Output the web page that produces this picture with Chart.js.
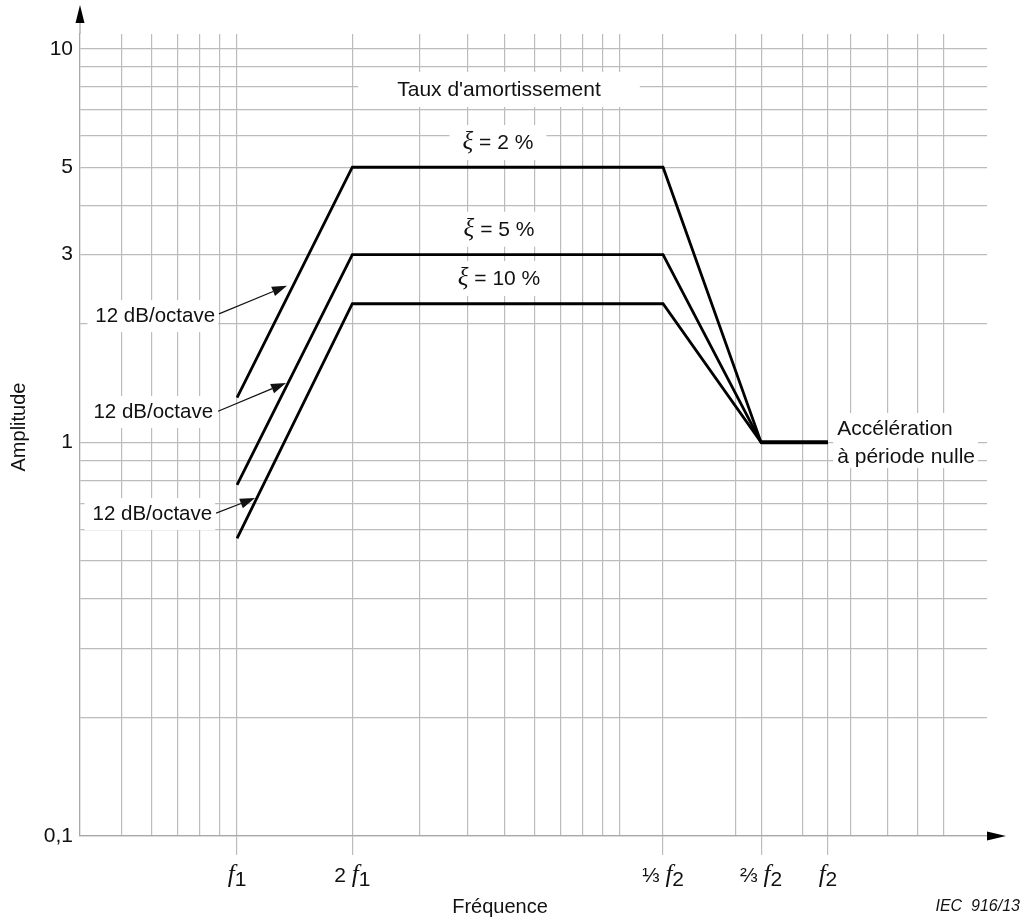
<!DOCTYPE html>
<html>
<head>
<meta charset="utf-8">
<title>Amplitude / Fréquence</title>
<script src="https://cdn.jsdelivr.net/npm/chart.js@4.4.1/dist/chart.umd.min.js"></script>
<style>
  html, body { margin: 0; padding: 0; background: #fff; }
  canvas { display: block; }
</style>
</head>
<body>
<canvas id="spectreChart" width="1027" height="921"></canvas>
<script>
// points de rupture en fréquence (multiples de f1)
const frequences = [1, 2, 12.95, 23.35, 34.9];
// amplitude pour chaque taux d'amortissement
const amplitude2 = [1.3, 5, 5, 1, 1];
const amplitude5 = [0.78, 3, 3, 1, 1];
const amplitude10 = [0.57, 2.25, 2.25, 1, 1];
// palier d'accélération à période nulle
const accelFreq = [23.35, 34.9];
const accelAmp = [1, 1];

// lignes de grille (papier log-log)
const xGrille = [0.5, 0.6, 0.7, 0.8, 0.9, 1, 2, 3, 4, 5, 6, 7, 8, 9, 10,
                 12.95, 20, 23.35, 30, 34.9, 40, 50, 60, 70];
const yGrille = [0.1, 0.2, 0.3, 0.4, 0.5, 0.6, 0.7, 0.8, 0.9,
                 1, 2, 3, 4, 5, 6, 7, 8, 9, 10];
const yEtiquettes = { 10: '10', 5: '5', 3: '3', 1: '1', 0.1: '0,1' };
const xEtiquettes = [
    { value: 1, pre: '', sub: '1' },
    { value: 2, pre: '2 ', sub: '1' },
    { value: 12.95, pre: '⅓ ', sub: '2' },
    { value: 23.35, pre: '⅔ ', sub: '2' },
    { value: 34.9, pre: '', sub: '2' }
];

const SANS = '"Liberation Sans", Arial, sans-serif';
const SERIF = '"Liberation Serif", "Times New Roman", serif';
const GRIS = '#bcbcbc';
const NOIR = '#111';
const XI = 'italic 25px ' + SERIF;

// textes avec fond blanc (positions en coordonnées des données)
const annotations = [
    { lignes: [[["Taux d'amortissement", '21px ' + SANS]]], x: 4.83, y: [7.59], align: 'center', pad: [39, 39, 24, 11] },
    { lignes: [[['ξ', XI], [' = 2 %', '21px ' + SANS]]], x: 4.80, y: [5.56], align: 'center', pad: [13, 13, 24, 11] },
    { lignes: [[['ξ', XI], [' = 5 %', '21px ' + SANS]]], x: 4.83, y: [3.35], align: 'center', pad: [13, 13, 24, 11] },
    { lignes: [[['ξ', XI], [' = 10 %', '21px ' + SANS]]], x: 4.83, y: [2.51], align: 'center', pad: [13, 13, 24, 11] },
    { lignes: [[['12 dB/octave', '20.5px ' + SANS]]], x: 0.876, y: [2.02], align: 'right', pad: [8, 3, 22, 10] },
    { lignes: [[['12 dB/octave', '20.5px ' + SANS]]], x: 0.866, y: [1.153], align: 'right', pad: [8, 3, 22, 10] },
    { lignes: [[['12 dB/octave', '20.5px ' + SANS]]], x: 0.861, y: [0.635], align: 'right', pad: [8, 3, 22, 10] },
    { lignes: [[['Accélération', '21px ' + SANS]], [['à période nulle', '21px ' + SANS]]],
      x: 36.9, y: [1.044, 0.887], align: 'left', pad: [4, 3, 22, 5] }
];

// flèches "12 dB/octave"
const fleches = [
    { de: [0.897, 2.12], vers: [1.35, 2.50] },
    { de: [0.892, 1.20], vers: [1.342, 1.416] },
    { de: [0.882, 0.661], vers: [1.114, 0.722] }
];

function serie(xs, ys) {
    return xs.map((x, i) => ({ x: x, y: ys[i] }));
}

function largeur(ctx, runs) {
    let w = 0;
    runs.forEach(r => { ctx.font = r[1]; w += ctx.measureText(r[0]).width; });
    return w;
}

function dessinerRuns(ctx, runs, x, y, align) {
    const w = largeur(ctx, runs);
    let cx = align === 'center' ? x - w / 2 : (align === 'right' ? x - w : x);
    ctx.textAlign = 'left';
    ctx.textBaseline = 'alphabetic';
    runs.forEach(r => {
        ctx.font = r[1];
        ctx.fillText(r[0], cx, y + (r[2] || 0));
        cx += ctx.measureText(r[0]).width;
    });
}

function fleche(ctx, x1, y1, x2, y2, long, demi) {
    const a = Math.atan2(y2 - y1, x2 - x1);
    const bx = x2 - long * Math.cos(a), by = y2 - long * Math.sin(a);
    ctx.beginPath();
    ctx.moveTo(x1, y1);
    ctx.lineTo(bx, by);
    ctx.stroke();
    ctx.beginPath();
    ctx.moveTo(x2, y2);
    ctx.lineTo(bx + demi * Math.sin(a), by - demi * Math.cos(a));
    ctx.lineTo(bx - demi * Math.sin(a), by + demi * Math.cos(a));
    ctx.closePath();
    ctx.fill();
}

const decorPlugin = {
    id: 'decor',
    beforeDatasetsDraw(chart) {
        const ctx = chart.ctx, xs = chart.scales.x, ys = chart.scales.y;
        ctx.save();
        // fonds blancs et textes
        annotations.forEach(a => {
            const px = xs.getPixelForValue(a.x);
            const py = a.y.map(v => ys.getPixelForValue(v));
            let wmax = 0;
            a.lignes.forEach(l => { wmax = Math.max(wmax, largeur(ctx, l)); });
            const left = a.align === 'center' ? px - wmax / 2 : (a.align === 'right' ? px - wmax : px);
            ctx.fillStyle = '#fff';
            ctx.fillRect(left - a.pad[0], py[0] - a.pad[2],
                wmax + a.pad[0] + a.pad[1], py[py.length - 1] - py[0] + a.pad[2] + a.pad[3]);
            ctx.fillStyle = NOIR;
            a.lignes.forEach((l, i) => dessinerRuns(ctx, l, px, py[i], a.align));
        });
        ctx.restore();
    },
    afterDatasetsDraw(chart) {
        const ctx = chart.ctx, xs = chart.scales.x, ys = chart.scales.y;
        const area = chart.chartArea;
        ctx.save();
        ctx.strokeStyle = NOIR;
        ctx.fillStyle = NOIR;
        ctx.lineWidth = 1.2;
        fleches.forEach(f => {
            fleche(ctx, xs.getPixelForValue(f.de[0]), ys.getPixelForValue(f.de[1]),
                xs.getPixelForValue(f.vers[0]), ys.getPixelForValue(f.vers[1]), 15, 5);
        });

        // prolongement des axes et flèches
        ctx.strokeStyle = '#a8a8a8';
        ctx.lineWidth = 1.3;
        ctx.beginPath();
        ctx.moveTo(area.left, area.top);
        ctx.lineTo(area.left, area.top - 12);
        ctx.moveTo(area.right, area.bottom);
        ctx.lineTo(area.right + 2, area.bottom);
        ctx.stroke();
        ctx.fillStyle = '#000';
        ctx.beginPath();
        ctx.moveTo(area.left, area.top - 29);
        ctx.lineTo(area.left - 4.5, area.top - 11);
        ctx.lineTo(area.left + 4.5, area.top - 11);
        ctx.closePath();
        ctx.fill();
        ctx.beginPath();
        ctx.moveTo(area.right + 19, area.bottom);
        ctx.lineTo(area.right, area.bottom - 4.5);
        ctx.lineTo(area.right, area.bottom + 4.5);
        ctx.closePath();
        ctx.fill();

        // étiquettes de l'axe des fréquences
        ctx.fillStyle = NOIR;
        xEtiquettes.forEach(e => {
            const runs = [];
            if (e.pre) runs.push([e.pre, '21px ' + SANS]);
            runs.push(['f', 'italic 25px ' + SERIF]);
            runs.push([e.sub, '21px ' + SANS, 4]);
            dessinerRuns(ctx, runs, xs.getPixelForValue(e.value), 882, 'center');
        });

        // titres des axes
        ctx.font = '20px ' + SANS;
        ctx.textAlign = 'center';
        ctx.textBaseline = 'alphabetic';
        ctx.fillText('Fréquence', 500, 913);
        ctx.save();
        ctx.translate(25, 427);
        ctx.rotate(-Math.PI / 2);
        ctx.fillText('Amplitude', 0, 0);
        ctx.restore();

        ctx.font = 'italic 16px ' + SANS;
        ctx.textAlign = 'right';
        ctx.fillText('IEC  916/13', 1020, 911);
        ctx.restore();
    }
};

const estEtiquetteX = v => xEtiquettes.some(e => e.value === v);

const ligne = {
    borderColor: '#000',
    borderWidth: 2.8,
    pointRadius: 0,
    showLine: true,
    tension: 0,
    borderJoinStyle: 'miter',
    fill: false
};

new Chart(document.getElementById('spectreChart'), {
    type: 'scatter',
    data: {
        datasets: [
            Object.assign({ label: 'ξ = 2 %', data: serie(frequences, amplitude2) }, ligne),
            Object.assign({ label: 'ξ = 5 %', data: serie(frequences, amplitude5) }, ligne),
            Object.assign({ label: 'ξ = 10 %', data: serie(frequences, amplitude10) }, ligne),
            Object.assign({ label: 'Accélération à période nulle', data: serie(accelFreq, accelAmp) }, ligne, { borderWidth: 4 })
        ]
    },
    options: {
        responsive: false,
        animation: false,
        layout: { padding: { left: 0, top: 34, right: 40, bottom: 0 } },
        plugins: { legend: { display: false }, tooltip: { enabled: false } },
        scales: {
            x: {
                type: 'logarithmic',
                min: 0.389,
                max: 90.8,
                afterBuildTicks: s => { s.ticks = xGrille.map(v => ({ value: v })); },
                afterFit: s => { s.height = 85; },
                ticks: { display: false },
                grid: {
                    color: GRIS,
                    lineWidth: 1.2,
                    drawTicks: true,
                    tickLength: 19,
                    tickColor: c => (c.tick && estEtiquetteX(c.tick.value)) ? GRIS : 'rgba(0,0,0,0)'
                },
                border: { color: '#a8a8a8', width: 1.3 }
            },
            y: {
                type: 'logarithmic',
                min: 0.1,
                max: 10.9,
                afterBuildTicks: s => { s.ticks = yGrille.map(v => ({ value: v })); },
                afterFit: s => { s.width = 80; },
                ticks: {
                    autoSkip: false,
                    padding: 7,
                    color: NOIR,
                    font: { family: SANS, size: 21 },
                    callback: v => yEtiquettes[v] || ''
                },
                grid: { color: GRIS, lineWidth: 1.2, drawTicks: false },
                border: { color: '#a8a8a8', width: 1.3 }
            }
        }
    },
    plugins: [decorPlugin]
});
</script>
</body>
</html>
